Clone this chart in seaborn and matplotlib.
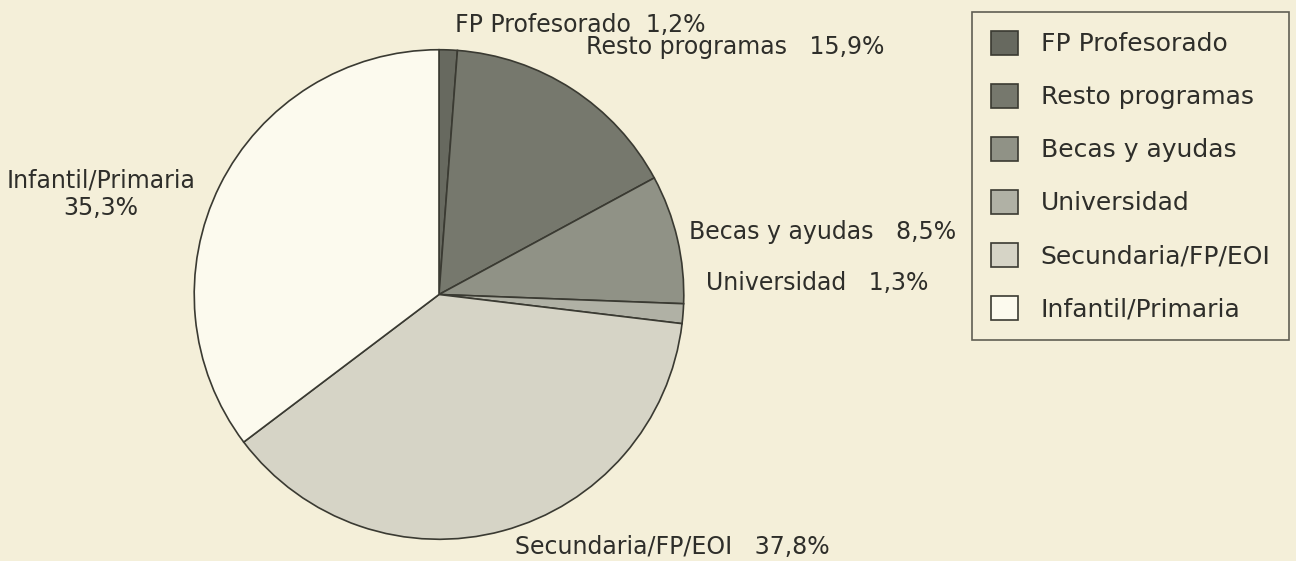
import matplotlib
matplotlib.use('Agg')
import matplotlib.pyplot as plt
import seaborn as sns

categorias = ['FP Profesorado', 'Resto programas', 'Becas y ayudas',
              'Universidad', 'Secundaria/FP/EOI', 'Infantil/Primaria']
porcentajes = [1.2, 15.9, 8.5, 1.3, 37.8, 35.3]
etiquetas = ['FP Profesorado  1,2%', 'Resto programas   15,9%', 'Becas y ayudas   8,5%',
             'Universidad   1,3%', 'Secundaria/FP/EOI   37,8%', 'Infantil/Primaria\n35,3%']
colores = ['#67695f', '#76786d', '#909286', '#b0b1a5', '#d6d4c6', '#fcfaee']

sns.set_theme(style='white')
plt.rcParams['font.family'] = ['DejaVu Sans']
fondo = '#f4efd9'
tinta = '#2e2e2a'

fig = plt.figure(figsize=(12.96, 5.61), dpi=100, facecolor=fondo)
# axes box fitted to the pie disc
ax = fig.add_axes([193 / 1296, 20 / 561, 492 / 1296, 493 / 561])
ax.set_facecolor(fondo)

wedges, _ = ax.pie(porcentajes, startangle=90, counterclock=False, radius=1,
                   colors=colores,
                   wedgeprops=dict(edgecolor='#3a3a32', linewidth=1.2))
ax.set_xlim(-1.005, 1.005)
ax.set_ylim(-1.005, 1.005)

# label positions (data coords around the pie)
pos = [(0.065, 1.10, 'left'), (0.60, 1.01, 'left'), (1.02, 0.256, 'left'),
       (1.09, 0.045, 'left'), (0.31, -1.03, 'left'), (-1.38, 0.41, 'center')]
for txt, (x, y, ha) in zip(etiquetas, pos):
    ax.text(x, y, txt, ha=ha, va='center', fontsize=17, color=tinta,
            linespacing=1.2)

leg = fig.legend(wedges, categorias, loc='upper left',
                 bbox_to_anchor=(972 / 1296, 1 - 12 / 561),
                 frameon=True, fancybox=False, fontsize=18,
                 handlelength=1.1, handleheight=1.1, labelspacing=1.1,
                 borderpad=0.75, handletextpad=0.9, borderaxespad=0)
leg.get_frame().set_edgecolor('#3a3a32')
leg.get_frame().set_linewidth(1.2)
leg.get_frame().set_facecolor(fondo)
for t in leg.get_texts():
    t.set_color(tinta)

plt.savefig('out.png', dpi=100, facecolor=fondo)
